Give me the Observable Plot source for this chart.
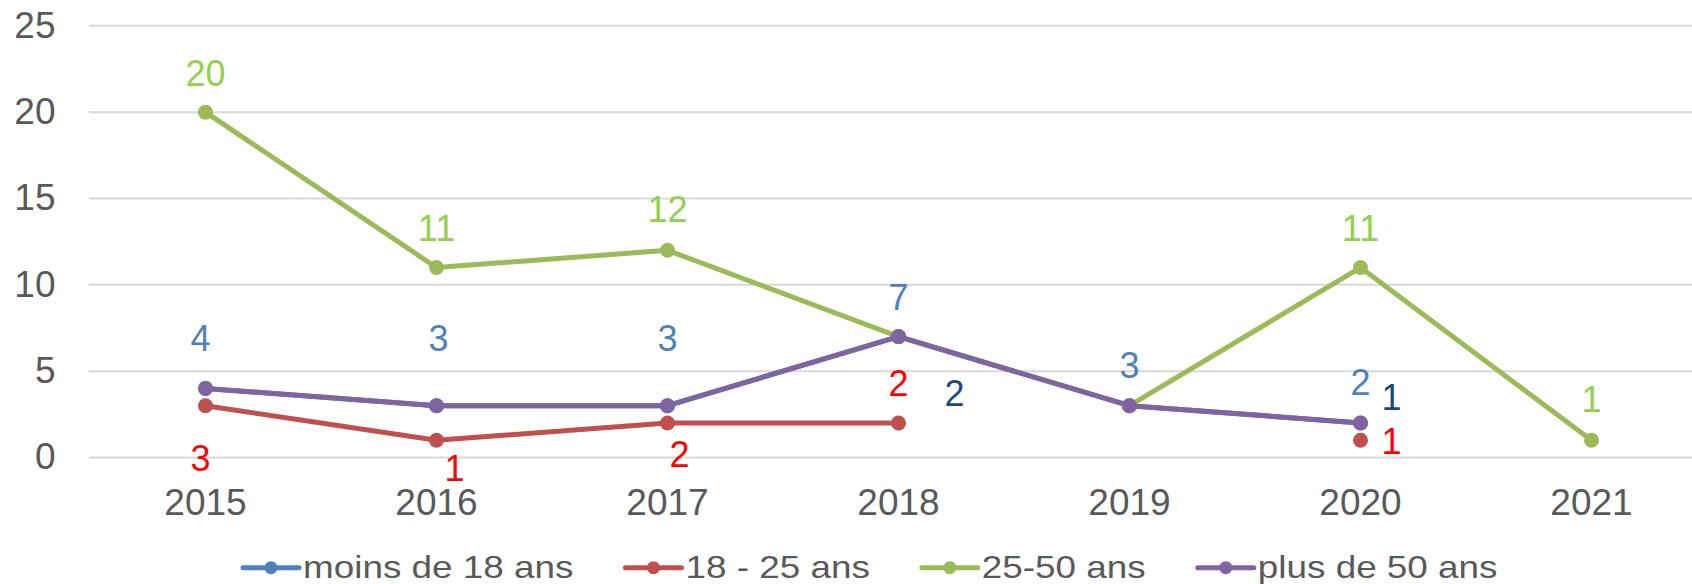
<!DOCTYPE html>
<html>
<head>
<meta charset="utf-8">
<script src="https://cdn.jsdelivr.net/npm/d3@7"></script>
<script src="https://cdn.jsdelivr.net/npm/@observablehq/plot@0.6"></script>
<style>
  html, body { margin: 0; padding: 0; background: #fff; }
  #chart { width: 1692px; font-family: "Liberation Sans", Arial, sans-serif; }
  #chart svg { display: block; }
</style>
</head>
<body>
<div id="chart"></div>
<script>
// ---- data ----
const years = [2015, 2016, 2017, 2018, 2019, 2020, 2021];
const seriesNames = ["moins de 18 ans", "18 - 25 ans", "25-50 ans", "plus de 50 ans"];
const moins18 = [4, 3, 3, 7, 3, 2, null];
const de18a25 = [3, 1, 2, 2, null, 1, null];
const de25a50 = [20, 11, 12, 7, 3, 11, 1];
const plus50  = [4, 3, 3, 7, 3, 2, null];
const yTicks = [0, 5, 10, 15, 20, 25];

// data labels as shown on the chart
const labelsMoins18 = [4, 3, 3, 7, 3, 2, null];
const labelsDe18a25 = [3, 1, 2, 2, null, 1, null];
const labelsDe25a50 = [20, 11, 12, null, null, 11, 1];
const labelsExtra   = [null, null, null, 2, null, 1, null];

// ---- layout / styles (kept apart from data) ----
const colors = ["#4f81bd", "#c0504d", "#9bbb59", "#8064a2"];
const labelColors = {moins18: "#4f81bd", de18a25: "#ff0000", de25a50: "#92d050", extra: "#1f497d"};
const labelOffsets = {
  moins18: [[-5, -49], [2, -66], [0, -66], [0, -38.5], [0, -39], [0, -39.5], null],
  de18a25: [[-5, 54], [18, 29], [12, 33], [0, -38.5], null, [31, 2], null],
  de25a50: [[0, -38], [0, -38], [0, -39.5], null, null, [0, -38], [0, -39.5]],
  extra:   [null, null, null, [56, -28.5], null, [31, -42], null]
};
const FONT = "'Liberation Sans', Arial, sans-serif";
const TEXT_GRAY = "#595959";
const PLOT_H = 536;

const seriesValues = [moins18, de18a25, de25a50, plus50];
const rows = seriesValues.map((vals, i) =>
  years.map((year, j) => ({series: seriesNames[i], year, value: vals[j]}))
);

const marks = [
  Plot.ruleY(yTicks, {stroke: "#d9d9d9", strokeWidth: 2}),
  Plot.axisY(yTicks, {tickSize: 0, tickPadding: 34, fontSize: 37, fill: TEXT_GRAY, label: null}),
  Plot.axisX(years, {tickSize: 0, tickPadding: 31, fontSize: 37, fill: TEXT_GRAY, label: null, tickFormat: d => String(d)})
];

rows.forEach((data, i) => {
  marks.push(Plot.line(data, {x: "year", y: "value", stroke: colors[i], strokeWidth: 5, strokeLinejoin: "round"}));
  marks.push(Plot.dot(data.filter(d => d.value != null), {x: "year", y: "value", r: 7.5, fill: colors[i], stroke: "none"}));
});

const labelSets = {moins18: labelsMoins18, de18a25: labelsDe18a25, de25a50: labelsDe25a50, extra: labelsExtra};
for (const key of Object.keys(labelSets)) {
  labelSets[key].forEach((v, j) => {
    if (v == null) return;
    const [dx, dy] = labelOffsets[key][j];
    marks.push(Plot.text([{year: years[j], value: v}], {
      x: "year", y: "value", text: d => String(d.value),
      dx, dy, fill: labelColors[key], fontSize: 36, fontFamily: FONT
    }));
  });
}

const plot = Plot.plot({
  width: 1692,
  height: PLOT_H,
  marginLeft: 89,
  marginRight: 0,
  marginTop: 0,
  marginBottom: PLOT_H - 457,
  style: {fontFamily: FONT, background: "white", overflow: "visible"},
  x: {type: "point", domain: years, range: [204, 1592], padding: 0},
  y: {domain: [0, 25], range: [457, 25.3]},
  marks
});
document.getElementById("chart").appendChild(plot);

// ---- legend (below the plot) ----
const ns = "http://www.w3.org/2000/svg";
const LEG_H = 584 - PLOT_H;
const leg = document.createElementNS(ns, "svg");
leg.setAttribute("width", 1692);
leg.setAttribute("height", LEG_H);
document.getElementById("chart").appendChild(leg);
let x = 243;
const cy = 567.7 - PLOT_H;
seriesNames.forEach((name, i) => {
  const line = document.createElementNS(ns, "line");
  line.setAttribute("x1", x); line.setAttribute("x2", x + 56);
  line.setAttribute("y1", cy); line.setAttribute("y2", cy);
  line.setAttribute("stroke", colors[i]); line.setAttribute("stroke-width", 5);
  line.setAttribute("stroke-linecap", "round");
  leg.appendChild(line);
  const dot = document.createElementNS(ns, "circle");
  dot.setAttribute("cx", x + 28); dot.setAttribute("cy", cy); dot.setAttribute("r", 6.5);
  dot.setAttribute("fill", colors[i]);
  leg.appendChild(dot);
  const t = document.createElementNS(ns, "text");
  t.setAttribute("x", x + 60);
  t.setAttribute("y", cy + 10);
  t.setAttribute("font-family", "Liberation Sans, Arial, sans-serif");
  t.setAttribute("font-size", 31.5);
  t.setAttribute("fill", TEXT_GRAY);
  t.textContent = name;
  leg.appendChild(t);
  const w = t.getComputedTextLength() * 1.17;
  t.setAttribute("textLength", w);
  t.setAttribute("lengthAdjust", "spacingAndGlyphs");
  x += 60 + w + 52;
});
</script>
</body>
</html>
